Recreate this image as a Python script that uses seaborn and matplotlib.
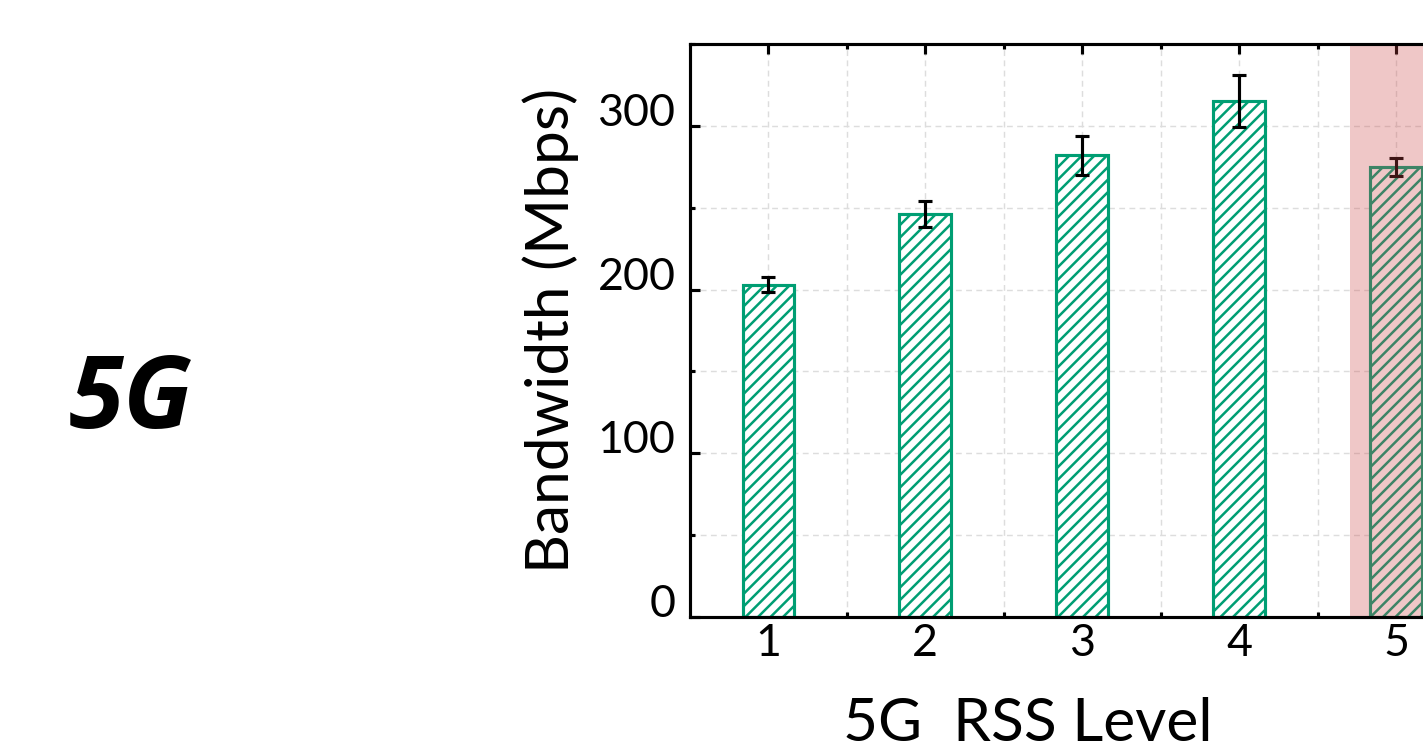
import matplotlib
matplotlib.use("Agg")
import matplotlib.pyplot as plt
import seaborn as sns
import numpy as np

# ---- data ----
levels = ["1", "2", "3", "4", "5"]
bandwidth = [203, 246, 282, 315, 275]
bandwidth_err = [4.5, 8, 12, 16, 5.5]
yticks = [0, 100, 200, 300]

GREEN = "#009E73"

sns.set_style("white")
plt.rcParams["font.family"] = ["Lato", "DejaVu Sans"]
plt.rcParams["hatch.linewidth"] = 1.2
plt.rcParams["text.color"] = "black"
plt.rcParams["axes.labelcolor"] = "black"

DPI = 150
fig = plt.figure(figsize=(1423 / DPI, 749 / DPI), dpi=DPI)
ax = fig.add_axes([0.4849, 0.1762, 0.5513, 0.7651])

sns.barplot(x=levels, y=bandwidth, ax=ax, width=0.33, color="white",
            edgecolor=GREEN, linewidth=1.5, errorbar=None, zorder=1.5)
for p in ax.patches:
    p.set_hatch("////")
    p.set_edgecolor(GREEN)
    p.set_facecolor("white")
    p.set_zorder(1.5)

ax.errorbar(np.arange(len(levels)), bandwidth, yerr=bandwidth_err, fmt="none",
            ecolor="black", elinewidth=1.5, capsize=3.4, capthick=1.5, zorder=2)

# highlighted region
ax.axvspan(3.707, 4.6, color="#cd4848", alpha=0.3, lw=0, zorder=2.4)

ax.set_xlim(-0.5, 4.5)
ax.set_ylim(0, 350)
ax.set_yticks(yticks)
ax.set_yticks([50, 150, 250, 350], minor=True)
ax.set_xticks(np.arange(len(levels)))
ax.set_xticklabels(levels)
ax.set_xticks(np.arange(len(levels)) + 0.5, minor=True)

ax.grid(True, which="both", color="#dddddd", linestyle=(0, (4, 3)), linewidth=0.7, zorder=0.5)
ax.set_axisbelow(True)

for s in ax.spines.values():
    s.set_visible(True)
    s.set_linewidth(1.5)
    s.set_color("black")

ax.tick_params(which="both", direction="in", top=True, right=True, bottom=True, left=True,
               width=1.5, colors="black", labelsize=21.5)
ax.tick_params(which="major", length=5)
ax.tick_params(which="minor", length=2.5)
ax.tick_params(axis="x", pad=3)
ax.tick_params(axis="y", pad=7)
for lab in ax.get_yticklabels():
    lab.set_verticalalignment("baseline")

ax.set_ylabel("Bandwidth (Mbps)", fontsize=29)
ax.yaxis.set_label_coords(-0.141, 0.5)
ax.set_xlabel("5G  RSS Level", fontsize=29)
ax.xaxis.set_label_coords(0.431, -0.14)
ax.xaxis.label.set_verticalalignment("top")

fig.text(131 / 1423, 1 - 428 / 749, "5G", fontsize=48, fontweight="bold", fontstyle="italic",
         family=["Open Sans", "DejaVu Sans"], ha="center", va="baseline", color="black")

fig.savefig("out.png", dpi=DPI)
